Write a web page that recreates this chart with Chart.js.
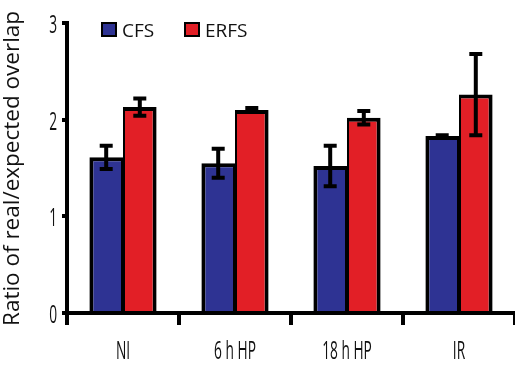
<!DOCTYPE html>
<html>
<head>
<meta charset="utf-8">
<script src="https://cdn.jsdelivr.net/npm/chart.js@4.4.1/dist/chart.umd.min.js"></script>
<style>
  html, body { margin: 0; padding: 0; background: #fff; }
  #wrap { width: 515px; height: 365px; }
</style>
</head>
<body>
<div id="wrap"><canvas id="c" width="515" height="365"></canvas></div>
<script>
// Conditions and overlap ratios with their error margins
const categories = ['NI', '6 h HP', '18 h HP', 'IR'];
const cfsValues  = [1.61, 1.55, 1.52, 1.83];
const cfsErrors  = [0.12, 0.15, 0.21, 0.01];
const erfsValues = [2.13, 2.10, 2.02, 2.26];
const erfsErrors = [0.09, 0.02, 0.07, 0.42];
const yTicks = [0, 1, 2, 3];
const seriesNames = ['CFS', 'ERFS'];
const axisTitle = 'Ratio of real/expected overlap';

const BLUE = '#2E3393';
const RED = '#E21F26';

// Error bars, condensed tick labels, inline legend and the rotated axis title
const decorations = {
  id: 'decorations',
  afterDatasetsDraw(chart) {
    const ctx = chart.ctx;
    const errs = [cfsErrors, erfsErrors];
    const vals = [cfsValues, erfsValues];
    const y = chart.scales.y;
    ctx.save();
    ctx.strokeStyle = '#000';
    ctx.lineWidth = 4;
    ctx.lineCap = 'butt';
    chart.data.datasets.forEach((ds, di) => {
      const meta = chart.getDatasetMeta(di);
      meta.data.forEach((bar, i) => {
        const v = vals[di][i], e = errs[di][i];
        const yTop = y.getPixelForValue(v + e);
        const yBot = y.getPixelForValue(v - e);
        const cx = bar.x;
        ctx.beginPath();
        ctx.moveTo(cx, yTop);
        ctx.lineTo(cx, yBot);
        ctx.moveTo(cx - 6.5, yTop);
        ctx.lineTo(cx + 6.5, yTop);
        ctx.moveTo(cx - 6.5, yBot);
        ctx.lineTo(cx + 6.5, yBot);
        ctx.stroke();
      });
    });
    ctx.restore();
  },
  afterDraw(chart) {
    const ctx = chart.ctx;
    const x = chart.scales.x, y = chart.scales.y;
    const squeeze = 0.55;

    // condensed tick labels
    ctx.save();
    ctx.fillStyle = '#111';
    ctx.font = '25px "Open Sans"';
    ctx.textBaseline = 'middle';
    ctx.textAlign = 'center';
    categories.forEach((lab, i) => {
      const px = x.getPixelForTick(i);
      ctx.save();
      ctx.translate(px, 352);
      ctx.scale(squeeze, 1);
      ctx.fillText(lab, 0, 0);
      ctx.restore();
    });
    ctx.textAlign = 'right';
    yTicks.forEach(v => {
      const py = y.getPixelForValue(v);
      ctx.save();
      ctx.translate(57, py + 3);
      ctx.scale(squeeze, 1);
      ctx.fillText(String(v), 0, 0);
      ctx.restore();
    });
    ctx.restore();

    // legend
    ctx.save();
    const colors = [BLUE, RED];
    const boxX = [101, 184];
    ctx.font = '19px "Open Sans"';
    ctx.textBaseline = 'alphabetic';
    ctx.textAlign = 'left';
    seriesNames.forEach((name, i) => {
      ctx.fillStyle = '#000';
      ctx.fillRect(boxX[i], 22, 16, 15);
      ctx.fillStyle = colors[i];
      ctx.fillRect(boxX[i] + 2, 24, 12, 11);
      ctx.fillStyle = '#111';
      ctx.fillText(name, boxX[i] + 21, 36.5);
    });
    ctx.restore();

    // rotated axis title, starting near the bottom of the axis
    ctx.save();
    ctx.fillStyle = '#111';
    ctx.font = '22.5px "Open Sans"';
    ctx.textBaseline = 'alphabetic';
    ctx.textAlign = 'left';
    ctx.translate(19, 326);
    ctx.rotate(-Math.PI / 2);
    ctx.fillText(axisTitle, 0, 0);
    ctx.restore();
  }
};

new Chart(document.getElementById('c'), {
  type: 'bar',
  data: {
    labels: categories,
    datasets: [
      {
        label: seriesNames[0],
        data: cfsValues,
        backgroundColor: BLUE,
        borderColor: '#000',
        borderWidth: { top: 4, left: 4, right: 2, bottom: 0 },
        borderSkipped: 'bottom'
      },
      {
        label: seriesNames[1],
        data: erfsValues,
        backgroundColor: RED,
        borderColor: '#000',
        borderWidth: { top: 4, left: 2, right: 4, bottom: 0 },
        borderSkipped: 'bottom'
      }
    ]
  },
  options: {
    responsive: false,
    animation: false,
    devicePixelRatio: 1,
    layout: { padding: { top: 23, right: 0, bottom: 0, left: 0 } },
    plugins: {
      legend: { display: false },
      tooltip: { enabled: false }
    },
    datasets: {
      bar: { categoryPercentage: 0.6, barPercentage: 1.0 }
    },
    scales: {
      x: {
        offset: true,
        grid: {
          display: true,
          offset: true,
          drawOnChartArea: false,
          drawTicks: true,
          tickLength: 12,
          lineWidth: 4,
          color: '#000'
        },
        border: { display: true, width: 4, color: '#000' },
        ticks: { display: false },
        afterFit(scale) { scale.height = 52; }
      },
      y: {
        min: 0,
        max: 3,
        ticks: { display: false, stepSize: 1 },
        grid: {
          display: true,
          drawOnChartArea: false,
          drawTicks: true,
          tickLength: 5,
          lineWidth: 4,
          color: '#000'
        },
        border: { display: true, width: 4, color: '#000' },
        afterFit(scale) { scale.width = 67; }
      }
    }
  },
  plugins: [decorations]
});
</script>
</body>
</html>
